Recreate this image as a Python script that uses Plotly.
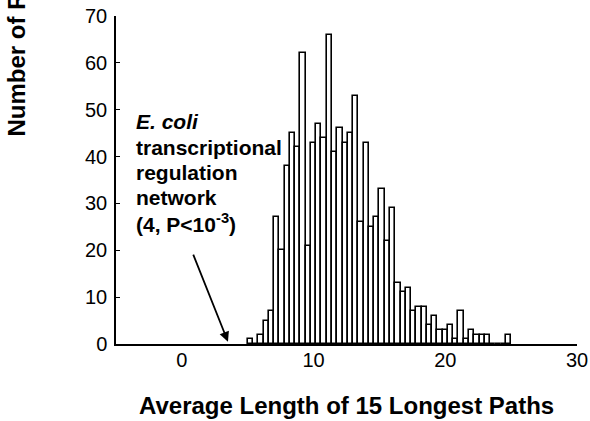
import plotly.graph_objects as go

# histogram bins (centers) and counts
bin_start = 5.2
bin_width = 0.4
counts = [1, 0, 2, 5, 7, 27, 20, 38, 45, 42, 62, 21, 43, 47, 44, 66, 41, 46, 43, 45,
          53, 26, 43, 25, 27, 33, 22, 29, 13, 11, 12, 7, 8, 8, 4, 6, 3, 3, 4, 1,
          7, 1, 3, 2, 2, 2, 0, 0, 0, 2]
bin_centers = [round(bin_start + i * bin_width, 2) for i in range(len(counts))]

x_ticks = [0, 10, 20, 30]
y_ticks = [0, 10, 20, 30, 40, 50, 60, 70]

label_lines = ["<b><i>E. coli</i></b>", "<b>transcriptional</b>", "<b>regulation</b>",
               "<b>network</b>", "<b>(4, P<10<sup>-3</sup>)</b>"]
real_value = 3.5

FONT = "Liberation Sans, Arial, sans-serif"

fig = go.Figure()
fig.add_trace(go.Bar(
    x=bin_centers, y=counts, width=bin_width,
    marker=dict(color="white", line=dict(color="black", width=1.6)),
    showlegend=False,
))

W, H = 590, 421
ml, mr, mt, mb = 116, 13, 16, 77
plot_h = H - mt - mb

def py_to_y(py):
    return (H - mb - py) / plot_h * 70

def py_to_paper(py):
    return (H - mb - py) / plot_h

anns = []
line_centers = [121.5, 147, 172, 197.5, 223]
for txt, pyc in zip(label_lines, line_centers):
    anns.append(dict(x=-3.6, y=py_to_y(pyc), xref="x", yref="y", text=txt,
                     showarrow=False, xanchor="left", yanchor="middle",
                     font=dict(size=21, color="black", family=FONT)))

anns.append(dict(x=real_value, y=0.5, xref="x", yref="y", ax=0.82, ay=19.4,
                 axref="x", ayref="y", text="", showarrow=True, arrowhead=2,
                 arrowsize=1.1, arrowwidth=1.8, arrowcolor="black"))

anns.append(dict(x=0.5, y=py_to_paper(405), xref="paper", yref="paper",
                 text="<b>Average Length of 15 Longest Paths</b>", showarrow=False,
                 xanchor="center", yanchor="middle",
                 font=dict(size=24, color="black", family=FONT)))

anns.append(dict(x=-(ml - 16) / (W - ml - mr), y=py_to_paper(139), xref="paper", yref="paper",
                 text="<b>Number of Random Networks</b>", showarrow=False, textangle=-90,
                 xanchor="center", yanchor="bottom",
                 font=dict(size=24, color="black", family=FONT)))

fig.update_layout(
    width=W, height=H,
    margin=dict(l=ml, r=mr, t=mt, b=mb, pad=0, autoexpand=False),
    paper_bgcolor="white", plot_bgcolor="white",
    bargap=0,
    annotations=anns,
    font=dict(family=FONT, color="black", size=20),
)
fig.update_xaxes(range=[-5, 30], tickvals=x_ticks, ticks="", showline=True,
                 linecolor="black", linewidth=1.5, showgrid=False, zeroline=False,
                 automargin=False,
                 tickfont=dict(size=20, color="black"), ticklabelstandoff=-3)
fig.update_yaxes(range=[0, 70], tickvals=y_ticks, ticks="inside", ticklen=4,
                 tickcolor="black", tickwidth=1, showline=True, linecolor="black",
                 linewidth=1.5, showgrid=False, zeroline=False, automargin=False,
                 tickfont=dict(size=20, color="black"), ticklabelstandoff=3)

fig.write_html("out.html")
